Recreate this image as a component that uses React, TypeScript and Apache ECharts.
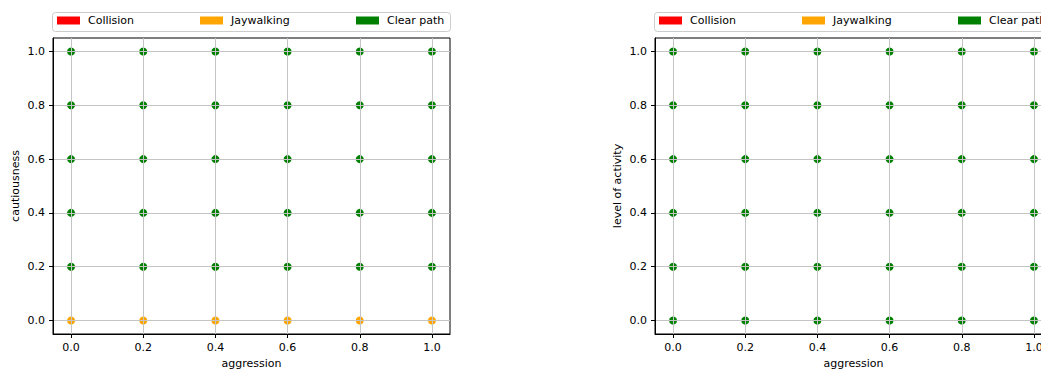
import React, { useEffect, useRef } from "react";
import * as echarts from "echarts";

const aggression = [0, 0.2, 0.4, 0.6, 0.8, 1.0];
const cautiousness = [0, 0.2, 0.4, 0.6, 0.8, 1.0];
const activityLevel = [0, 0.2, 0.4, 0.6, 0.8, 1.0];
const tickValues = [0, 0.2, 0.4, 0.6, 0.8, 1.0];
const outcomeNames = ["Collision", "Jaywalking", "Clear path"];
const outcomeColors = ["#ff0000", "#ffa500", "#008000"];
const J = "Jaywalking";
const C = "Clear path";
// rows: cautiousness (0 -> 1), columns: aggression (0 -> 1)
const outcomesByCautiousness = [
  [J, J, J, J, J, J],
  [C, C, C, C, C, C],
  [C, C, C, C, C, C],
  [C, C, C, C, C, C],
  [C, C, C, C, C, C],
  [C, C, C, C, C, C],
];
// rows: level of activity (0 -> 1), columns: aggression (0 -> 1)
const outcomesByActivity = [
  [C, C, C, C, C, C],
  [C, C, C, C, C, C],
  [C, C, C, C, C, C],
  [C, C, C, C, C, C],
  [C, C, C, C, C, C],
  [C, C, C, C, C, C],
];

const FONT = "DejaVu Sans";

function pointsFor(outcome: string, rowsVals: number[], grid: string[][]) {
  const pts: number[][] = [];
  grid.forEach((row, ri) =>
    row.forEach((o, ci) => {
      if (o === outcome) pts.push([aggression[ci], rowsVals[ri]]);
    })
  );
  return pts;
}

function makeAxis(gridIndex: number, name: string, isX: boolean) {
  return {
    type: "value",
    gridIndex,
    min: -0.05,
    max: 1.05,
    z: 3,
    name,
    nameLocation: "middle",
    nameGap: isX ? 21 : 32,
    nameTextStyle: { color: "#000", fontSize: 11, fontFamily: FONT },
    axisLine: { show: true, onZero: false, lineStyle: { color: "#000", width: 1 } },
    axisTick: {
      show: true,
      inside: false,
      length: 4,
      customValues: tickValues,
      lineStyle: { color: "#000", width: 1 },
    },
    axisLabel: {
      customValues: tickValues,
      formatter: (v: number) => v.toFixed(1),
      color: "#000",
      fontSize: 11,
      fontFamily: FONT,
      margin: 8,
    },
    splitLine: { show: true, lineStyle: { color: "#c4c4c4", width: 1 } },
  };
}

const legendStarts = [
  [57, 200, 356],
  [659, 802, 958],
];

export default function App() {
  const ref = useRef<HTMLDivElement>(null);
  useEffect(() => {
    if (!ref.current) return;
    const chart = echarts.init(ref.current, undefined, { renderer: "svg" });
    const plots = [
      { rows: cautiousness, grid: outcomesByCautiousness, yName: "cautiousness" },
      { rows: activityLevel, grid: outcomesByActivity, yName: "level of activity" },
    ];
    const series: any[] = [];
    plots.forEach((p, pi) => {
      outcomeNames.forEach((n, oi) => {
        series.push({
          type: "scatter",
          name: n,
          xAxisIndex: pi,
          yAxisIndex: pi,
          symbol: "circle",
          symbolSize: 8,
          z: 2,
          itemStyle: { color: outcomeColors[oi], opacity: 1 },
          data: pointsFor(n, p.rows, p.grid),
        });
      });
    });
    const legends: any[] = [];
    legendStarts.forEach((starts) => {
      starts.forEach((x, i) => {
        legends.push({
          left: x,
          top: 15,
          padding: 0,
          icon: "rect",
          itemWidth: 23,
          itemHeight: 8,
          selectedMode: false,
          data: [outcomeNames[i]],
          textStyle: {
            color: "#000",
            fontSize: 11,
            fontFamily: FONT,
            padding: [0, 0, 0, 3],
          },
        });
      });
    });
    const gridBase = {
      top: 38,
      width: 397,
      height: 296,
      show: true,
      borderColor: "#000",
      borderWidth: 1,
      backgroundColor: "transparent",
      containLabel: false,
      outerBoundsMode: "none",
    };
    chart.setOption({
      animation: false,
      backgroundColor: "#fff",
      graphic: [
        {
          type: "rect",
          z: 0,
          shape: { x: 52.5, y: 12.5, width: 398, height: 19, r: 3 },
          style: { fill: "#fff", stroke: "#cccccc", lineWidth: 1 },
        },
        {
          type: "rect",
          z: 0,
          shape: { x: 654.5, y: 12.5, width: 398, height: 19, r: 3 },
          style: { fill: "#fff", stroke: "#cccccc", lineWidth: 1 },
        },
      ],
      legend: legends,
      grid: [
        { ...gridBase, left: 53 },
        { ...gridBase, left: 655 },
      ],
      xAxis: [makeAxis(0, "aggression", true), makeAxis(1, "aggression", true)],
      yAxis: [makeAxis(0, plots[0].yName, false), makeAxis(1, plots[1].yName, false)],
      series,
    });
    return () => chart.dispose();
  }, []);
  return (
    <div
      ref={ref}
      style={{ position: "fixed", left: 0, top: 0, width: 1041, height: 369, overflow: "hidden" }}
    />
  );
}
